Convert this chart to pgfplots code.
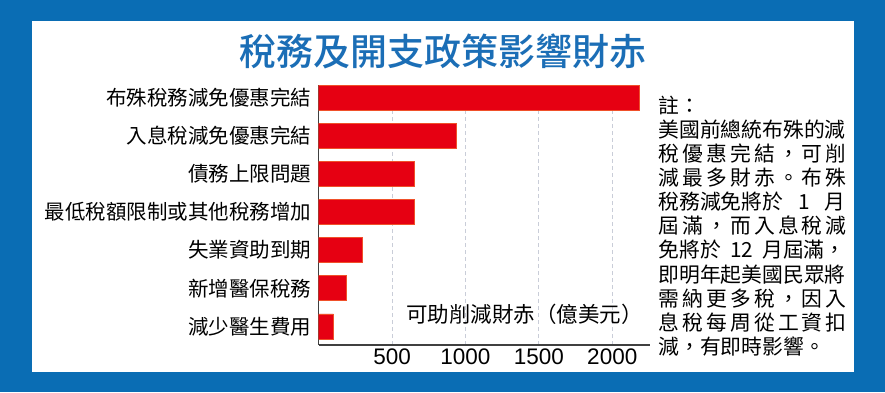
\documentclass[border=0pt]{standalone}
\usepackage{pgfplots}
\pgfplotsset{compat=1.18}
\usepackage{fontspec}
\setmainfont{Noto Sans CJK TC}
\newfontfamily\titlefont{Noto Sans CJK TC}[UprightFont={* Medium}]
\newfontfamily\arial{Liberation Sans}
\definecolor{bgblue}{HTML}{0A6DB4}
\definecolor{titleblue}{HTML}{1B6EB6}
\definecolor{barred}{HTML}{E60012}
\definecolor{baredge}{HTML}{F0502A}
\definecolor{gridc}{HTML}{C9CDD8}
\newcommand{\nl}[2]{\node[anchor=west, inner sep=0pt, font=\fontsize{20.8bp}{24bp}\selectfont] at (658.3, 392-#1) {#2};}
\begin{document}
\begin{tikzpicture}[x=1bp,y=1bp]
\useasboundingbox (0,0) rectangle (885,392);
\fill[bgblue] (0,0) rectangle (885,392);
\fill[white] (32,20) rectangle (854,371);
\node[text=titleblue, font=\titlefont\fontsize{37bp}{40bp}\selectfont, inner sep=0pt] at (442.5, 392-51) {稅務及開支政策影響財赤};
\begin{axis}[
  at={(318.6bp,47bp)}, anchor=south west, scale only axis,
  width=331.4bp, height=260bp,
  xmin=0, xmax=2257, ymin=-0.49, ymax=6.33,
  xbar, bar width=25bp,
  axis x line=bottom, axis y line=left,
  axis line style={-, line width=1.5bp, draw=black!75},
  xtick={500,1000,1500,2000}, xticklabels={500,1000,1500,2000},
  ytick={0,1,2,3,4,5,6},
  yticklabels={減少醫生費用,新增醫保稅務,失業資助到期,最低稅額限制或其他稅務增加,債務上限問題,入息稅減免優惠完結,布殊稅務減免優惠完結},
  major tick length=0pt, tick style={draw=none},
  xmajorgrids, ymajorgrids=false,
  grid style={gridc, line width=1bp, dash pattern=on 4bp off 3bp},
  xticklabel style={font=\arial\fontsize{22.5bp}{24bp}\selectfont, inner sep=0pt, anchor=north},
  xticklabel shift=4bp,
  yticklabel style={font=\fontsize{20.5bp}{24bp}\selectfont, inner sep=0pt, anchor=east},
  yticklabel shift=7bp,
]
\addplot[fill=barred, draw=baredge, line width=0.6bp] coordinates {(100,0) (190,1) (300,2) (650,3) (650,4) (940,5) (2185,6)};
\end{axis}
\node[inner sep=0pt, font=\fontsize{21.5bp}{24bp}\selectfont] at (524.5, 392-314) {可助削減財赤（億美元）};
\nl{105}{註：}
\nl{129.2}{\makebox[187bp][s]{美國前總統布殊的減}}
\nl{153.3}{\makebox[187bp][s]{稅 優 惠 完 結 ， 可 削}}
\nl{177.5}{\makebox[187bp][s]{減 最 多 財 赤 。 布 殊}}
\nl{201.7}{\makebox[187bp][s]{稅務減免將於 1 月}}
\nl{225.8}{\makebox[187bp][s]{屆 滿 ， 而 入 息 稅 減}}
\nl{250}{\makebox[187bp][s]{免將於 12 月屆滿，}}
\nl{274.2}{\makebox[187bp][s]{即明年起美國民眾將}}
\nl{298.3}{\makebox[187bp][s]{需 納 更 多 稅 ， 因 入}}
\nl{322.5}{\makebox[187bp][s]{息 稅 每 周 從 工 資 扣}}
\nl{346.7}{減，有即時影響。}
\end{tikzpicture}
\end{document}
